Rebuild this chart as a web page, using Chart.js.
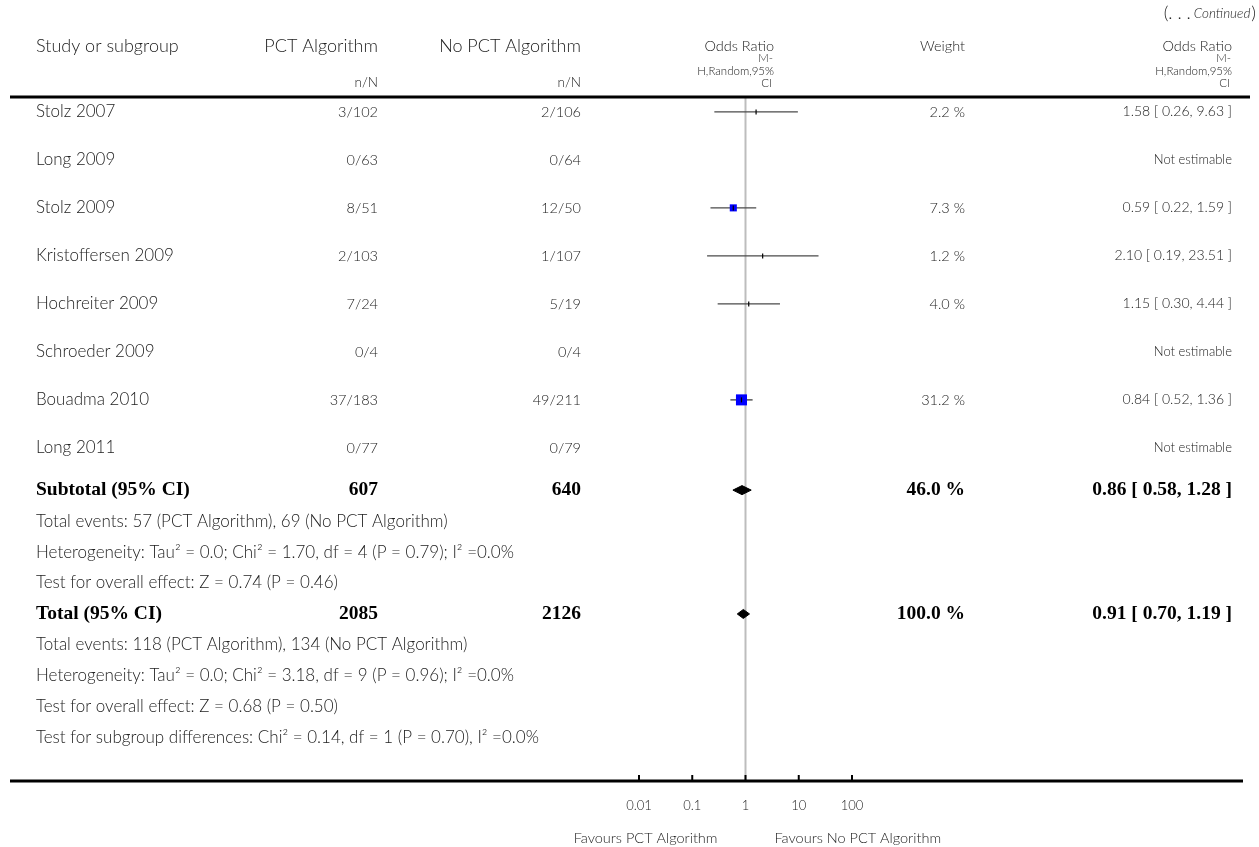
<!DOCTYPE html>
<html><head><meta charset="utf-8">
<script src="https://cdn.jsdelivr.net/npm/chart.js@4"></script>
<style>html,body{margin:0;padding:0;background:#fff;overflow:hidden}</style>
</head><body>
<canvas id="c" width="1259" height="847"></canvas>
<script>
// ---------- data ----------
const studies = ["Stolz 2007","Long 2009","Stolz 2009","Kristoffersen 2009","Hochreiter 2009","Schroeder 2009","Bouadma 2010","Long 2011"];
const pctEvents = ["3/102","0/63","8/51","2/103","7/24","0/4","37/183","0/77"];
const noPctEvents = ["2/106","0/64","12/50","1/107","5/19","0/4","49/211","0/79"];
const oddsRatio = [1.58,null,0.59,2.10,1.15,null,0.84,null];
const ciLow = [0.26,null,0.22,0.19,0.30,null,0.52,null];
const ciHigh = [9.63,null,1.59,23.51,4.44,null,1.36,null];
const weights = [2.2,null,7.3,1.2,4.0,null,31.2,null];

const summaryNames = ["Subtotal (95% CI)","Total (95% CI)"];
const summaryPct = ["607","2085"];
const summaryNoPct = ["640","2126"];
const summaryWeight = [46.0,100.0];
const summaryOR = [0.86,0.91];
const summaryLow = [0.58,0.70];
const summaryHigh = [1.28,1.19];
const subtotalNotes = [
  "Total events: 57 (PCT Algorithm), 69 (No PCT Algorithm)",
  "Heterogeneity: Tau\u00B2 = 0.0; Chi\u00B2 = 1.70, df = 4 (P = 0.79); I\u00B2 =0.0%",
  "Test for overall effect: Z = 0.74 (P = 0.46)"
];
const totalNotes = [
  "Total events: 118 (PCT Algorithm), 134 (No PCT Algorithm)",
  "Heterogeneity: Tau\u00B2 = 0.0; Chi\u00B2 = 3.18, df = 9 (P = 0.96); I\u00B2 =0.0%",
  "Test for overall effect: Z = 0.68 (P = 0.50)",
  "Test for subgroup differences: Chi\u00B2 = 0.14, df = 1 (P = 0.70), I\u00B2 =0.0%"
];
const axisTicks = [0.01,0.1,1,10,100];
const axisTickLabels = ["0.01","0.1","1","10","100"];
const favoursLabels = ["Favours PCT Algorithm","Favours No PCT Algorithm"];
const headers = ["Study or subgroup","PCT Algorithm","No PCT Algorithm","Odds Ratio","Weight","Odds Ratio"];

// ---------- layout / style (row units of the y scale) ----------
const Y_MAX = 14.25;
const studyRowY = studies.map((s,i)=>0.31+i);
const summaryStart = 8.19, summaryPitch = 0.645;
const subtotalY = summaryStart;
const subtotalNoteY = subtotalNotes.map((t,i)=>summaryStart+(i+1)*summaryPitch);
const totalY = summaryStart+4*summaryPitch;
const totalNoteY = totalNotes.map((t,i)=>totalY+(i+1)*summaryPitch);
const summaryY = [subtotalY,totalY];
const squareRadius = [0,0,5,0,0,0,7.8,0];
const DIAMOND_H = 0.094;

const fmt = v => v.toFixed(2);
const orText = studies.map((s,i)=> oddsRatio[i]==null ? "Not estimable" : `${fmt(oddsRatio[i])} [ ${fmt(ciLow[i])}, ${fmt(ciHigh[i])} ]`);
const weightText = weights.map(w => w==null ? "" : w.toFixed(1)+" %");

// ---------- datasets (lower order = drawn on top) ----------
const datasets = [];
datasets.push({order:10,data:[{x:1,y:0},{x:1,y:Y_MAX}],showLine:true,borderColor:'#bdbdbd',borderWidth:2,pointRadius:0,clip:false});
studies.forEach((s,i)=>{
  if(oddsRatio[i]==null) return;
  datasets.push({order:8,data:[{x:ciLow[i],y:studyRowY[i]},{x:ciHigh[i],y:studyRowY[i]}],showLine:true,borderColor:'#4a4a4a',borderWidth:1.4,pointRadius:0,clip:false});
});
const sqIdx = studies.map((s,i)=>i).filter(i=>oddsRatio[i]!=null && squareRadius[i]>0);
datasets.push({order:6,data:sqIdx.map(i=>({x:oddsRatio[i],y:studyRowY[i]})),pointStyle:'rect',pointRadius:sqIdx.map(i=>squareRadius[i]),backgroundColor:'#0000ff',borderWidth:0,showLine:false,clip:false});
const ptIdx = studies.map((s,i)=>i).filter(i=>oddsRatio[i]!=null);
datasets.push({order:4,data:ptIdx.map(i=>({x:oddsRatio[i],y:studyRowY[i]})),pointStyle:'line',rotation:90,pointRadius:2.5,borderColor:'#000',borderWidth:1.2,showLine:false,clip:false});
summaryOR.forEach((o,k)=>{
  const y=summaryY[k];
  datasets.push({order:2,data:[{x:summaryLow[k],y},{x:o,y:y-DIAMOND_H},{x:summaryHigh[k],y},{x:o,y:y+DIAMOND_H},{x:summaryLow[k],y}],
    showLine:true,fill:'shape',backgroundColor:'#000',borderColor:'#000',borderWidth:1,pointRadius:0,tension:0,clip:false});
});

// ---------- text plugin ----------
const FAM = 'Lato, "Open Sans", sans-serif';
const NAME = '300 17px '+FAM;
const NUM = '300 14.5px '+FAM;
const HEAD = '300 18px '+FAM;
const SUB = '300 11.5px '+FAM;
const BOLD = 'bold 19.5px "Liberation Serif", "DejaVu Serif", serif';
const COL = {study:36, pct:378, nopct:581, or:774, weight:965, orTxt:1232};
const tablePlugin = {
  id:'forestTable',
  afterDraw(chart){
    const ctx=chart.ctx, ys=chart.scales.y, xs=chart.scales.x, ca=chart.chartArea;
    ctx.save();
    ctx.textBaseline='middle';
    ctx.fillStyle='#222';
    const t=(s,x,y,align,font)=>{ctx.font=font;ctx.textAlign=align;ctx.fillText(s,x,y);};
    // continued
    let cy=ca.top-84, rx=1256;
    ctx.textAlign='right';
    ctx.font='300 18px '+FAM;
    ctx.fillText(")",rx,cy); rx-=ctx.measureText(")").width;
    ctx.font='italic 300 13.5px '+FAM;
    ctx.fillText("Continued",rx-1,cy+1); rx-=ctx.measureText("Continued").width+4;
    ctx.font='300 18px '+FAM;
    ctx.fillText("(. . .",rx,cy);
    // headers
    const hy=ca.top-51;
    t(headers[0],COL.study,hy,'left',HEAD);
    t(headers[1],COL.pct,hy,'right',HEAD);
    t(headers[2],COL.nopct,hy,'right',HEAD);
    t(headers[3],COL.or,hy,'right',NUM);
    t(headers[4],COL.weight,hy,'right',NUM);
    t(headers[5],COL.orTxt,hy,'right',NUM);
    [COL.or,COL.orTxt].forEach(x=>{
      t("M-",x-1,ca.top-39,'right',SUB);
      t("H,Random,95%",x,ca.top-26,'right',SUB);
      t("CI",x-2,ca.top-14,'right',SUB);
    });
    t("n/N",COL.pct,ca.top-14,'right','300 13.5px '+FAM);
    t("n/N",COL.nopct,ca.top-14,'right','300 13.5px '+FAM);
    // rules
    ctx.strokeStyle='#000'; ctx.lineWidth=3;
    ctx.beginPath(); ctx.moveTo(10,ca.top); ctx.lineTo(1250,ca.top); ctx.stroke();
    ctx.beginPath(); ctx.moveTo(10,ca.bottom); ctx.lineTo(1243,ca.bottom); ctx.stroke();
    // axis ticks
    ctx.lineWidth=2;
    axisTicks.forEach((v,i)=>{
      const x=xs.getPixelForValue(v);
      ctx.beginPath(); ctx.moveTo(x,ca.bottom); ctx.lineTo(x,ca.bottom-6); ctx.stroke();
      t(axisTickLabels[i],x,ca.bottom+25,'center','300 13px '+FAM);
    });
    const mid=xs.getPixelForValue(1);
    t(favoursLabels[0],mid-28,ca.bottom+57,'right','300 14.5px '+FAM);
    t(favoursLabels[1],mid+29,ca.bottom+57,'left','300 14.5px '+FAM);
    // study rows
    studies.forEach((s,i)=>{
      const y=ys.getPixelForValue(studyRowY[i]);
      t(s,COL.study,y,'left',NAME);
      t(pctEvents[i],COL.pct,y,'right',NUM);
      t(noPctEvents[i],COL.nopct,y,'right',NUM);
      t(weightText[i],COL.weight,y,'right',NUM);
      t(orText[i],COL.orTxt,y,'right',orText[i]==="Not estimable"?'300 13px '+FAM:'300 14px '+FAM);
    });
    // summary rows
    summaryNames.forEach((s,k)=>{
      const y=ys.getPixelForValue(summaryY[k]);
      ctx.fillStyle='#000';
      t(s,COL.study,y,'left',BOLD);
      t(summaryPct[k],COL.pct,y,'right',BOLD);
      t(summaryNoPct[k],COL.nopct,y,'right',BOLD);
      t(summaryWeight[k].toFixed(1)+" %",COL.weight,y,'right',BOLD);
      t(`${fmt(summaryOR[k])} [ ${fmt(summaryLow[k])}, ${fmt(summaryHigh[k])} ]`,COL.orTxt,y,'right',BOLD);
      ctx.fillStyle='#222';
    });
    subtotalNotes.forEach((s,i)=>t(s,COL.study,ys.getPixelForValue(subtotalNoteY[i]),'left',NAME));
    totalNotes.forEach((s,i)=>t(s,COL.study,ys.getPixelForValue(totalNoteY[i]),'left',NAME));
    ctx.restore();
  }
};

new Chart(document.getElementById('c'),{
  type:'scatter',
  data:{datasets},
  options:{
    responsive:false, animation:false, devicePixelRatio:1,
    layout:{padding:{left:639,right:407,top:97,bottom:66}},
    plugins:{legend:{display:false},tooltip:{enabled:false}},
    scales:{
      x:{type:'logarithmic',min:0.01,max:100,display:false},
      y:{type:'linear',min:0,max:Y_MAX,reverse:true,display:false}
    }
  },
  plugins:[tablePlugin]
});
</script>
</body></html>
